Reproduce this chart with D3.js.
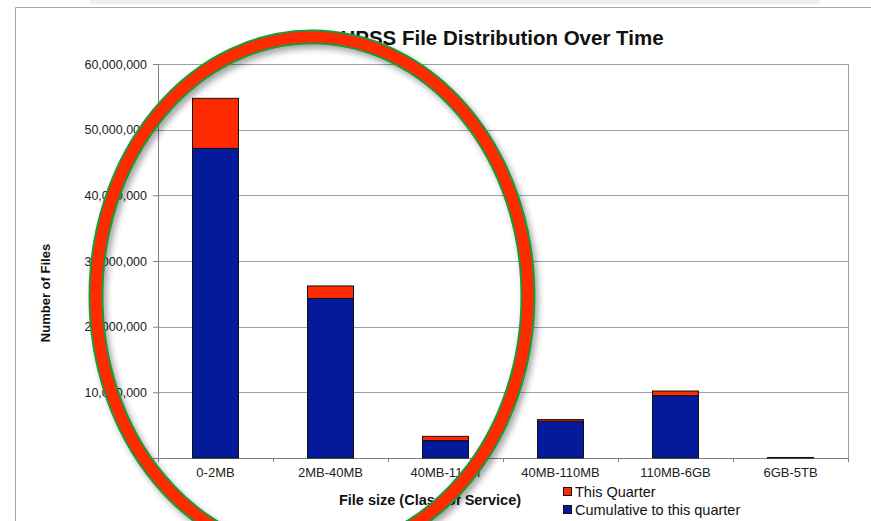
<!DOCTYPE html>
<html>
<head>
<meta charset="utf-8">
<script src="https://cdn.jsdelivr.net/npm/d3@7"></script>
<style>
  body { margin: 0; background: #fff; }
  text { font-family: "Liberation Sans", Arial, sans-serif; }
</style>
</head>
<body>
<div id="chart"></div>
<script>
// chart data
const categories = ['0-2MB', '2MB-40MB', '40MB-110M', '40MB-110MB', '110MB-6GB', '6GB-5TB'];
const cumulative = [47150000, 24300000, 2650000, 5600000, 9500000, 60000];
const thisQuarter = [7620000, 1900000, 650000, 250000, 700000, 20000];
const yTicks = [0, 10000000, 20000000, 30000000, 40000000, 50000000, 60000000];
const seriesNames = ['This Quarter', 'Cumulative to this quarter'];

const width = 871;
const height = 521;
const margin = { top: 64, right: 23, bottom: 63, left: 158 };
const plotW = width - margin.left - margin.right;
const plotH = height - margin.top - margin.bottom;

const colBlue = '#031a9a';
const colRed = '#ff2a00';

const svg = d3.select('#chart')
    .append('svg')
    .attr('width', width)
    .attr('height', height);

const defs = svg.append('defs');
defs.append('filter')
    .attr('id', 'shadow')
    .attr('x', '-20%').attr('y', '-20%')
    .attr('width', '140%').attr('height', '140%')
    .append('feDropShadow')
    .attr('dx', 3).attr('dy', 4)
    .attr('stdDeviation', 3)
    .attr('flood-color', '#000')
    .attr('flood-opacity', 0.35);

// faint slide shadow on top
svg.append('rect')
    .attr('x', 90).attr('y', 0)
    .attr('width', 730).attr('height', 4)
    .attr('fill', '#f0f0f0');

// outer frame
svg.append('path')
    .attr('d', `M15.5,${height} V7.5 H${width}`)
    .attr('fill', 'none')
    .attr('stroke', '#a8a8a8')
    .attr('stroke-width', 1);

const g = svg.append('g')
    .attr('transform', `translate(${margin.left},${margin.top})`);

const x = d3.scaleBand()
    .domain(categories)
    .range([0, plotW])
    .paddingInner(0.6)
    .paddingOuter(0.3);

const y = d3.scaleLinear()
    .domain([0, 60000000])
    .range([plotH, 0]);

// gridlines
g.selectAll('.grid')
    .data(yTicks.slice(1))
    .enter()
    .append('line')
    .attr('class', 'grid')
    .attr('x1', 0)
    .attr('x2', plotW)
    .attr('y1', (d) => Math.round(y(d)) + 0.5)
    .attr('y2', (d) => Math.round(y(d)) + 0.5)
    .attr('stroke', '#a0a0a0')
    .attr('stroke-width', 1);

// plot right border
g.append('line')
    .attr('x1', plotW + 0.5).attr('x2', plotW + 0.5)
    .attr('y1', 0).attr('y2', plotH)
    .attr('stroke', '#a0a0a0');

// y axis
const yAxis = g.append('g')
    .call(d3.axisLeft(y)
        .tickValues(yTicks)
        .tickSize(5)
        .tickPadding(6)
        .tickFormat(d3.format(',')));
yAxis.select('.domain').attr('stroke', '#808080');
yAxis.selectAll('.tick line').attr('stroke', '#808080');
yAxis.selectAll('text')
    .attr('fill', '#222')
    .style('font-size', '12.5px');

// x axis
const xAxis = g.append('g')
    .attr('transform', `translate(0,${plotH})`)
    .call(d3.axisBottom(x).tickSize(0).tickPadding(10));
xAxis.select('.domain').attr('stroke', '#808080');
xAxis.selectAll('text')
    .attr('fill', '#222')
    .style('font-size', '13px');

// category separator ticks
g.selectAll('.xsep')
    .data(d3.range(categories.length + 1))
    .enter()
    .append('line')
    .attr('class', 'xsep')
    .attr('x1', (i) => Math.round(i * plotW / categories.length) + 0.5)
    .attr('x2', (i) => Math.round(i * plotW / categories.length) + 0.5)
    .attr('y1', plotH)
    .attr('y2', plotH + 4)
    .attr('stroke', '#808080');

// stacked bars
const rows = categories.map((c, i) => ({ cat: c, cum: cumulative[i], q: thisQuarter[i] }));

g.selectAll('.barCum')
    .data(rows)
    .enter()
    .append('rect')
    .attr('class', 'barCum')
    .attr('x', (d) => x(d.cat))
    .attr('y', (d) => y(d.cum))
    .attr('width', x.bandwidth())
    .attr('height', (d) => plotH - y(d.cum))
    .attr('fill', colBlue)
    .attr('stroke', '#111')
    .attr('stroke-width', 1);

g.selectAll('.barQ')
    .data(rows)
    .enter()
    .append('rect')
    .attr('class', 'barQ')
    .attr('x', (d) => x(d.cat))
    .attr('y', (d) => y(d.cum + d.q))
    .attr('width', x.bandwidth())
    .attr('height', (d) => y(d.cum) - y(d.cum + d.q))
    .attr('fill', colRed)
    .attr('stroke', '#111')
    .attr('stroke-width', 1);

// title
svg.append('text')
    .attr('x', 502)
    .attr('y', 45)
    .attr('text-anchor', 'middle')
    .style('font-size', '20.5px')
    .style('font-weight', 'bold')
    .attr('fill', '#111')
    .text('HPSS File Distribution Over Time');

// axis titles
svg.append('text')
    .attr('transform', 'rotate(-90)')
    .attr('x', -293)
    .attr('y', 50)
    .attr('text-anchor', 'middle')
    .style('font-size', '13px')
    .style('font-weight', 'bold')
    .attr('fill', '#111')
    .text('Number of Files');

svg.append('text')
    .attr('x', 430)
    .attr('y', 505)
    .attr('text-anchor', 'middle')
    .style('font-size', '14.5px')
    .style('font-weight', 'bold')
    .attr('fill', '#111')
    .text('File size (Class of Service)');

// legend
const legend = svg.append('g')
    .attr('transform', 'translate(563,487)');
const legendColors = [colRed, colBlue];
seriesNames.forEach((name, i) => {
    const row = legend.append('g')
        .attr('transform', `translate(0,${i * 18})`);
    row.append('rect')
        .attr('x', 0.5).attr('y', 0.5)
        .attr('width', 8).attr('height', 8)
        .attr('fill', legendColors[i])
        .attr('stroke', '#111');
    row.append('text')
        .attr('x', 12)
        .attr('y', 10)
        .style('font-size', '14.5px')
        .attr('fill', '#111')
        .text(name);
});

// highlight ring annotation
const ring = svg.append('g').attr('filter', 'url(#shadow)');
ring.append('ellipse')
    .attr('cx', 312).attr('cy', 296)
    .attr('rx', 216).attr('ry', 259)
    .attr('fill', 'none')
    .attr('stroke', '#1a9a3a')
    .attr('stroke-width', 15);
ring.append('ellipse')
    .attr('cx', 312).attr('cy', 296)
    .attr('rx', 216).attr('ry', 259)
    .attr('fill', 'none')
    .attr('stroke', colRed)
    .attr('stroke-width', 11);
</script>
</body>
</html>
